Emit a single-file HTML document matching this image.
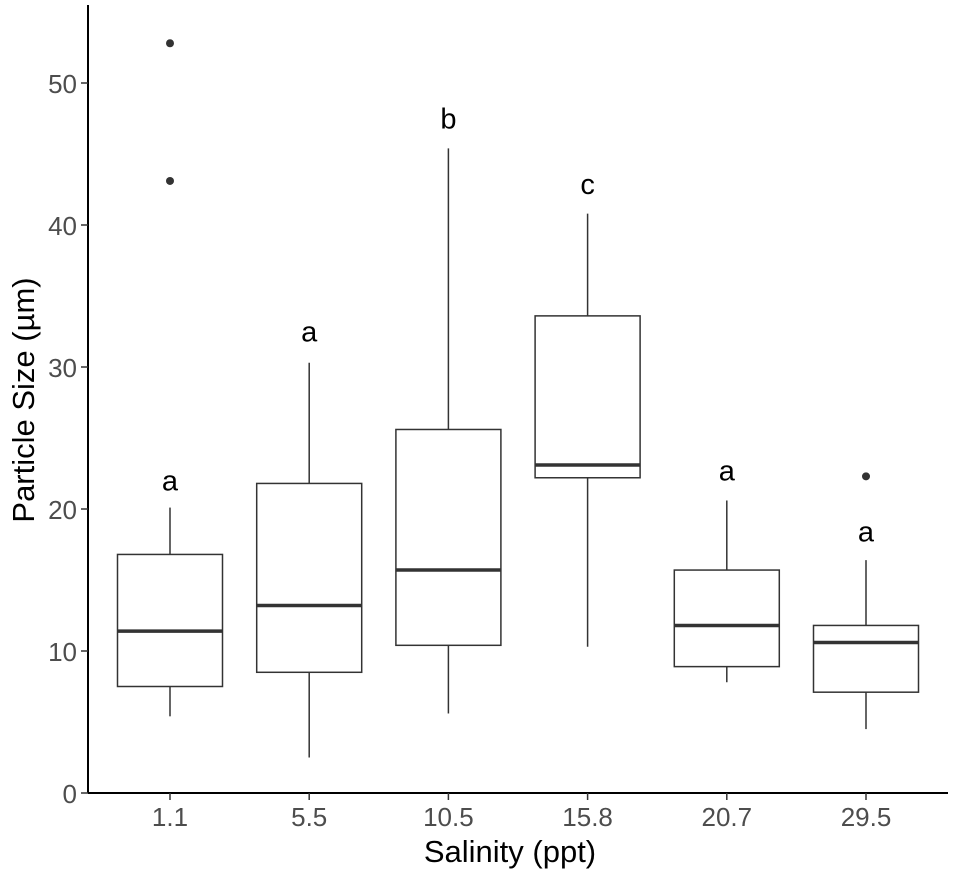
<!DOCTYPE html>
<html><head><meta charset="utf-8"><style>
html,body{margin:0;padding:0;background:#fff;}
svg{display:block;font-family:"Liberation Sans",sans-serif;}
</style></head><body>
<svg id="chart" width="957" height="874">
<g id="axes"></g><g id="marks"></g>
<text x="510" y="862" font-size="31" text-anchor="middle" fill="#000">Salinity (ppt)</text>
<text transform="translate(34,400) rotate(-90)" font-size="31" text-anchor="middle" fill="#000">Particle Size (µm)</text>
</svg>
<script>
const categories=["1.1","5.5","10.5","15.8","20.7","29.5"];
const whiskerLow=[5.4,2.5,5.6,10.3,7.8,4.5];
const q1=[7.5,8.5,10.4,22.2,8.9,7.1];
const median=[11.4,13.2,15.7,23.1,11.8,10.6];
const q3=[16.8,21.8,25.6,33.6,15.7,11.8];
const whiskerHigh=[20.1,30.3,45.4,40.8,20.6,16.4];
const outliers=[[52.8,43.1],[],[],[],[],[22.3]];
const letters=["a","a","b","c","a","a"];
const letterPos=[22.0,32.5,47.5,42.9,22.7,18.4];
const yTicks=[0,10,20,30,40,50];
const NS="http://www.w3.org/2000/svg";
const y=v=>793-v*14.2;
const x=i=>170+i*139.2;
const bw=105;
function mk(tag,attrs,parent){const e=document.createElementNS(NS,tag);for(const k in attrs)e.setAttribute(k,attrs[k]);parent.appendChild(e);return e;}
const ax=document.getElementById('axes'),mg=document.getElementById('marks');
let l=mk('line',{x1:88,y1:5,x2:88,y2:793,stroke:'#000','stroke-width':2},ax);


l=mk('line',{x1:88,y1:793,x2:948,y2:793,stroke:'#000','stroke-width':2},ax);


yTicks.forEach(t=>{
 const tk=mk('line',{x1:81,x2:88,y1:y(t),y2:y(t),stroke:'#333','stroke-width':1.5},ax);
 
 
 const tx=mk('text',{x:77,y:y(t)+10,'font-size':26,'text-anchor':'end',fill:'#4d4d4d'},ax);
 tx.textContent=t;
 
 
});
categories.forEach((c,i)=>{
 const cx=x(i);
 const tk=mk('line',{x1:cx,x2:cx,y1:793,y2:800,stroke:'#333','stroke-width':1.5},ax);
 
 
 const tx=mk('text',{x:cx,y:826,'font-size':26,'text-anchor':'middle',fill:'#4d4d4d'},ax);
 tx.textContent=c;
 
 
 const g=mk('g',{},mg);
 
 
 mk('line',{x1:cx,x2:cx,y1:y(whiskerLow[i]),y2:y(q1[i]),stroke:'#333','stroke-width':1.5},g);
 mk('line',{x1:cx,x2:cx,y1:y(q3[i]),y2:y(whiskerHigh[i]),stroke:'#333','stroke-width':1.5},g);
 mk('rect',{x:cx-bw/2,y:y(q3[i]),width:bw,height:y(q1[i])-y(q3[i]),fill:'#fff',stroke:'#333','stroke-width':1.5},g);
 mk('line',{x1:cx-bw/2,x2:cx+bw/2,y1:y(median[i]),y2:y(median[i]),stroke:'#333','stroke-width':3.5},g);
 outliers[i].forEach(o=>{
  const p=mk('circle',{cx:cx,cy:y(o),r:4,fill:'#333'},g);
  
  
 });
 const lt=mk('text',{x:cx,y:y(letterPos[i])+10,'font-size':29,'text-anchor':'middle',fill:'#000'},mg);
 lt.textContent=letters[i];
 
 
});
</script>
</body></html>
